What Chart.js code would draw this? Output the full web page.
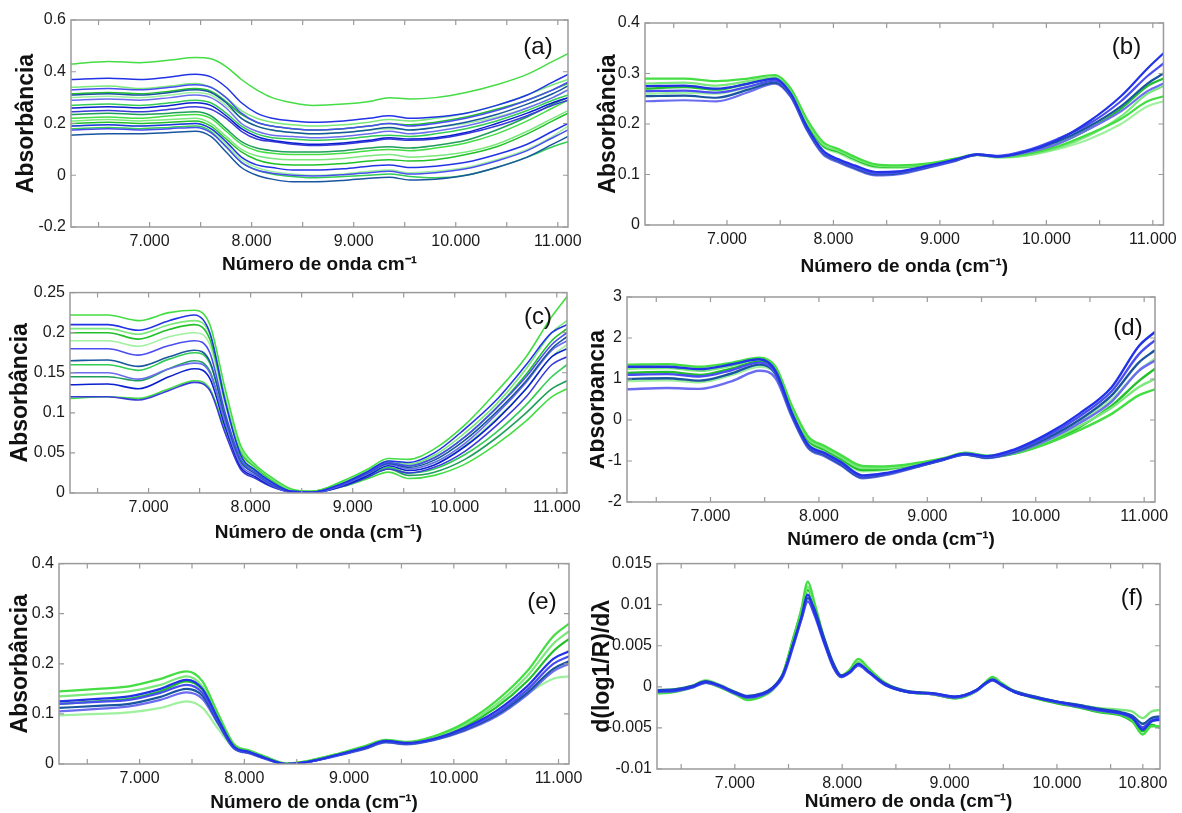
<!DOCTYPE html>
<html>
<head>
  <meta charset="UTF-8">
  <title>Espectros NIR</title>
  <script src="https://cdn.jsdelivr.net/npm/chart.js@4.4.4/dist/chart.umd.min.js"></script>
  <style>
    body { margin: 0; background: #fff; }
    #wrap { position: relative; width: 1182px; height: 813px; overflow: hidden; }
    .panel { position: absolute; background: #fff; }
    .panel canvas { display: block; }
  </style>
</head>
<body>
<div id="wrap">
  <div class="panel" style="left:0;top:0"><canvas id="chartA" width="590" height="278"></canvas></div>
  <div class="panel" style="left:590px;top:0"><canvas id="chartB" width="592" height="278"></canvas></div>
  <div class="panel" style="left:0;top:278px"><canvas id="chartC" width="590" height="271"></canvas></div>
  <div class="panel" style="left:590px;top:278px"><canvas id="chartD" width="592" height="271"></canvas></div>
  <div class="panel" style="left:0;top:549px"><canvas id="chartE" width="590" height="264"></canvas></div>
  <div class="panel" style="left:590px;top:549px"><canvas id="chartF" width="592" height="264"></canvas></div>
</div>

<script>
  // ---- wavenumber grids (cm-1) ----
  const waveGrid = [6230, 6600, 6900, 7200, 7450, 7600, 7750, 7900, 8050, 8200, 8400,
                    8600, 8900, 9150, 9350, 9550, 9800, 10100, 10400, 10700, 10950, 11100];
  const waveGridF = [6280, 6450, 6600, 6730, 6850, 7000, 7120, 7250, 7350, 7450,
                     7550, 7620, 7680, 7740, 7830, 7920, 7990, 8070, 8150, 8250,
                     8400, 8600, 8850, 9050, 9250, 9330, 9400, 9480, 9600, 9800,
                     10000, 10200, 10400, 10600, 10700, 10800, 10880, 10960];

  const xTicks = [6500, 7000, 7500, 8000, 8500, 9000, 9500, 10000, 10500, 11000];
  const xLabels = [7000, 8000, 9000, 10000, 11000];
  const xTicksF = [6500, 7000, 7500, 8000, 8500, 9000, 9500, 10000, 10500, 10800];
  const xLabelsF = [7000, 8000, 9000, 10000, 10800];

  // ---- (a) raw spectra ----
  const aGreen = [
    [0.43,0.44,0.435,0.445,0.455,0.45,0.42,0.37,0.33,0.3,0.28,0.27,0.275,0.285,0.3,0.295,0.3,0.32,0.35,0.39,0.44,0.47],
    [0.34,0.345,0.335,0.345,0.355,0.34,0.3,0.25,0.22,0.205,0.195,0.19,0.195,0.205,0.215,0.21,0.22,0.24,0.27,0.31,0.35,0.37],
    [0.315,0.32,0.315,0.325,0.335,0.325,0.285,0.235,0.205,0.19,0.18,0.175,0.18,0.19,0.2,0.195,0.205,0.225,0.255,0.29,0.33,0.355],
    [0.3,0.305,0.3,0.31,0.32,0.31,0.27,0.22,0.19,0.175,0.165,0.16,0.165,0.175,0.18,0.175,0.185,0.2,0.225,0.26,0.3,0.33],
    [0.27,0.275,0.27,0.28,0.29,0.28,0.24,0.19,0.16,0.145,0.14,0.135,0.14,0.15,0.155,0.15,0.16,0.18,0.21,0.25,0.29,0.31],
    [0.235,0.24,0.235,0.24,0.245,0.23,0.18,0.13,0.105,0.095,0.09,0.09,0.095,0.105,0.11,0.105,0.115,0.135,0.175,0.225,0.275,0.3],
    [0.22,0.225,0.22,0.23,0.235,0.22,0.17,0.12,0.095,0.085,0.08,0.08,0.085,0.095,0.1,0.095,0.105,0.125,0.16,0.21,0.26,0.29],
    [0.21,0.215,0.21,0.215,0.22,0.2,0.15,0.1,0.075,0.065,0.06,0.06,0.065,0.075,0.08,0.07,0.075,0.09,0.12,0.17,0.22,0.25],
    [0.2,0.205,0.2,0.205,0.21,0.19,0.14,0.09,0.06,0.045,0.04,0.04,0.045,0.055,0.06,0.055,0.06,0.08,0.11,0.16,0.21,0.24],
    [0.19,0.195,0.19,0.195,0.2,0.18,0.12,0.06,0.03,0.015,0.005,0.0,0.005,0.015,0.02,0.01,0.015,0.03,0.06,0.1,0.15,0.19],
    [0.18,0.185,0.18,0.185,0.19,0.17,0.11,0.05,0.02,0.005,-0.005,-0.01,-0.005,0.0,0.005,-0.005,-0.01,0.0,0.03,0.07,0.11,0.13]
  ];
  const aBlue = [
    [0.37,0.375,0.37,0.38,0.39,0.38,0.34,0.28,0.24,0.22,0.21,0.205,0.21,0.22,0.23,0.22,0.225,0.24,0.27,0.31,0.36,0.39],
    [0.33,0.335,0.33,0.34,0.35,0.34,0.3,0.24,0.205,0.19,0.18,0.175,0.18,0.19,0.2,0.19,0.2,0.22,0.25,0.29,0.33,0.36],
    [0.31,0.315,0.31,0.32,0.33,0.32,0.28,0.22,0.19,0.175,0.165,0.16,0.165,0.175,0.185,0.175,0.185,0.205,0.235,0.275,0.315,0.345],
    [0.29,0.295,0.29,0.3,0.31,0.3,0.26,0.2,0.17,0.155,0.15,0.145,0.15,0.16,0.17,0.16,0.17,0.19,0.22,0.26,0.3,0.33],
    [0.26,0.265,0.26,0.27,0.28,0.27,0.23,0.18,0.15,0.135,0.125,0.12,0.125,0.135,0.145,0.14,0.145,0.165,0.2,0.24,0.28,0.3],
    [0.245,0.25,0.245,0.255,0.265,0.255,0.22,0.17,0.14,0.13,0.12,0.115,0.12,0.13,0.14,0.135,0.14,0.16,0.19,0.23,0.27,0.29],
    [0.19,0.195,0.19,0.195,0.2,0.18,0.13,0.07,0.04,0.03,0.02,0.02,0.025,0.035,0.04,0.03,0.035,0.05,0.08,0.12,0.17,0.2],
    [0.175,0.18,0.175,0.18,0.185,0.165,0.11,0.05,0.02,0.008,0.0,-0.003,0.002,0.01,0.015,0.005,0.01,0.025,0.055,0.095,0.145,0.175],
    [0.155,0.16,0.16,0.165,0.17,0.15,0.09,0.03,0.0,-0.015,-0.025,-0.025,-0.02,-0.012,-0.008,-0.018,-0.015,0.0,0.03,0.07,0.12,0.15]
  ];

  // ---- (b) ----
  const bGreen = [
    [0.29,0.29,0.285,0.29,0.297,0.27,0.21,0.165,0.15,0.135,0.12,0.118,0.122,0.132,0.14,0.135,0.14,0.155,0.18,0.21,0.245,0.255],
    [0.28,0.282,0.276,0.285,0.293,0.265,0.205,0.16,0.147,0.132,0.118,0.116,0.121,0.131,0.139,0.134,0.138,0.152,0.177,0.215,0.26,0.275],
    [0.27,0.273,0.268,0.28,0.29,0.262,0.2,0.157,0.145,0.13,0.116,0.115,0.12,0.13,0.139,0.135,0.14,0.16,0.19,0.23,0.275,0.29],
    [0.26,0.262,0.26,0.273,0.285,0.26,0.198,0.155,0.142,0.127,0.114,0.113,0.12,0.13,0.139,0.134,0.137,0.15,0.17,0.2,0.235,0.245]
  ];
  const bBlue = [
    [0.275,0.276,0.27,0.28,0.29,0.26,0.195,0.148,0.13,0.118,0.105,0.106,0.118,0.13,0.14,0.136,0.145,0.168,0.205,0.255,0.31,0.34],
    [0.265,0.266,0.262,0.274,0.286,0.257,0.192,0.145,0.128,0.115,0.102,0.104,0.116,0.129,0.14,0.137,0.147,0.17,0.2,0.245,0.295,0.32],
    [0.255,0.256,0.252,0.268,0.282,0.255,0.19,0.143,0.126,0.113,0.1,0.102,0.115,0.128,0.139,0.136,0.145,0.165,0.195,0.235,0.28,0.3],
    [0.245,0.247,0.245,0.263,0.28,0.253,0.188,0.14,0.124,0.111,0.098,0.1,0.114,0.127,0.139,0.135,0.143,0.16,0.19,0.225,0.265,0.28]
  ];

  // ---- (c) ----
  const cGreen = [
    [0.222,0.222,0.215,0.225,0.228,0.21,0.13,0.06,0.035,0.02,0.005,0.002,0.015,0.03,0.043,0.042,0.055,0.085,0.125,0.17,0.22,0.245],
    [0.205,0.205,0.198,0.21,0.215,0.198,0.12,0.055,0.033,0.018,0.004,0.002,0.014,0.028,0.04,0.036,0.047,0.075,0.11,0.155,0.2,0.215],
    [0.2,0.2,0.192,0.204,0.21,0.192,0.115,0.052,0.032,0.017,0.004,0.002,0.013,0.027,0.038,0.034,0.044,0.07,0.105,0.148,0.19,0.205],
    [0.19,0.19,0.183,0.195,0.2,0.185,0.11,0.05,0.031,0.017,0.004,0.001,0.012,0.025,0.036,0.03,0.038,0.06,0.092,0.13,0.17,0.185],
    [0.16,0.16,0.153,0.167,0.175,0.162,0.097,0.045,0.029,0.016,0.003,0.001,0.01,0.022,0.032,0.025,0.03,0.048,0.075,0.11,0.145,0.16],
    [0.145,0.145,0.14,0.155,0.165,0.152,0.09,0.042,0.028,0.015,0.003,0.001,0.009,0.02,0.03,0.022,0.026,0.042,0.068,0.1,0.13,0.14],
    [0.118,0.12,0.118,0.13,0.14,0.13,0.08,0.038,0.026,0.014,0.003,0.001,0.008,0.018,0.026,0.018,0.022,0.036,0.06,0.09,0.12,0.13]
  ];
  const cBlue = [
    [0.21,0.21,0.203,0.215,0.222,0.2,0.115,0.048,0.028,0.014,0.002,0.001,0.012,0.027,0.04,0.038,0.05,0.08,0.115,0.16,0.2,0.21],
    [0.18,0.18,0.172,0.184,0.19,0.175,0.1,0.042,0.025,0.012,0.002,0.001,0.011,0.026,0.038,0.034,0.044,0.07,0.105,0.145,0.185,0.2],
    [0.165,0.166,0.158,0.17,0.178,0.164,0.095,0.04,0.024,0.011,0.002,0.001,0.011,0.025,0.037,0.032,0.041,0.066,0.1,0.14,0.18,0.195],
    [0.15,0.15,0.142,0.155,0.162,0.15,0.088,0.036,0.022,0.01,0.001,0.0,0.01,0.024,0.036,0.03,0.038,0.062,0.097,0.138,0.178,0.19],
    [0.135,0.136,0.13,0.145,0.155,0.143,0.083,0.033,0.02,0.009,0.001,0.0,0.009,0.022,0.034,0.028,0.035,0.058,0.09,0.13,0.17,0.18],
    [0.12,0.12,0.116,0.128,0.138,0.128,0.075,0.03,0.018,0.008,0.001,0.0,0.008,0.02,0.03,0.025,0.032,0.052,0.083,0.12,0.16,0.17]
  ];

  // ---- (d) ----
  const dGreen = [
    [1.35,1.36,1.3,1.4,1.52,1.3,0.35,-0.4,-0.63,-0.85,-1.12,-1.13,-1.05,-0.93,-0.8,-0.87,-0.82,-0.58,-0.25,0.15,0.6,0.75],
    [1.25,1.27,1.2,1.33,1.48,1.27,0.3,-0.45,-0.68,-0.9,-1.17,-1.17,-1.07,-0.94,-0.81,-0.88,-0.8,-0.52,-0.15,0.3,0.8,1.0],
    [1.15,1.17,1.1,1.26,1.43,1.23,0.25,-0.5,-0.72,-0.95,-1.22,-1.2,-1.09,-0.95,-0.82,-0.9,-0.82,-0.55,-0.18,0.35,0.95,1.25],
    [0.95,0.97,0.92,1.1,1.3,1.12,0.2,-0.55,-0.75,-0.98,-1.25,-1.22,-1.1,-0.96,-0.83,-0.9,-0.78,-0.45,-0.05,0.5,1.2,1.5]
  ];
  const dBlue = [
    [1.3,1.3,1.24,1.36,1.48,1.2,0.18,-0.6,-0.8,-1.02,-1.35,-1.3,-1.12,-0.95,-0.82,-0.88,-0.72,-0.35,0.15,0.8,1.8,2.15],
    [1.1,1.12,1.06,1.22,1.4,1.15,0.15,-0.62,-0.82,-1.05,-1.38,-1.32,-1.13,-0.96,-0.83,-0.9,-0.75,-0.4,0.08,0.7,1.6,1.95],
    [1.0,1.02,0.96,1.14,1.35,1.12,0.12,-0.65,-0.85,-1.08,-1.4,-1.33,-1.14,-0.97,-0.84,-0.92,-0.78,-0.45,0.0,0.6,1.4,1.7],
    [0.75,0.78,0.76,0.95,1.2,1.02,0.08,-0.68,-0.88,-1.1,-1.42,-1.35,-1.15,-0.97,-0.84,-0.93,-0.8,-0.5,-0.08,0.45,1.2,1.45]
  ];

  // ---- (e) ----
  const eGreen = [
    [0.145,0.15,0.155,0.17,0.185,0.165,0.1,0.04,0.027,0.015,0.001,0.006,0.021,0.036,0.048,0.044,0.055,0.082,0.125,0.185,0.255,0.28],
    [0.135,0.14,0.145,0.158,0.175,0.155,0.095,0.038,0.026,0.014,0.001,0.005,0.02,0.034,0.046,0.043,0.053,0.078,0.118,0.175,0.24,0.265],
    [0.12,0.125,0.13,0.145,0.165,0.148,0.09,0.036,0.025,0.013,0.001,0.005,0.019,0.033,0.045,0.042,0.052,0.075,0.112,0.165,0.225,0.25],
    [0.097,0.1,0.103,0.112,0.125,0.112,0.07,0.032,0.022,0.012,0.001,0.004,0.018,0.031,0.043,0.04,0.048,0.068,0.1,0.14,0.17,0.175]
  ];
  const eBlue = [
    [0.125,0.13,0.135,0.15,0.168,0.15,0.09,0.035,0.024,0.012,0.0,0.004,0.019,0.033,0.046,0.042,0.05,0.072,0.105,0.155,0.21,0.225],
    [0.12,0.124,0.128,0.142,0.158,0.142,0.086,0.033,0.023,0.011,0.0,0.004,0.018,0.032,0.045,0.041,0.049,0.07,0.1,0.148,0.2,0.215],
    [0.112,0.116,0.12,0.134,0.15,0.136,0.082,0.032,0.022,0.011,0.0,0.004,0.018,0.031,0.044,0.04,0.048,0.068,0.097,0.142,0.19,0.205],
    [0.105,0.11,0.115,0.128,0.143,0.13,0.08,0.031,0.021,0.01,0.0,0.004,0.017,0.03,0.043,0.039,0.047,0.066,0.094,0.138,0.185,0.2]
  ];

  // ---- (f) first derivative ----
  const fGreen = [
    [-0.0008,-0.0006,-0.0001,0.0005,0.0,-0.0009,-0.0016,-0.0012,-0.0004,0.0016,0.006,0.0095,0.0128,0.0103,0.006,0.0027,0.0014,0.0021,0.0034,0.0022,0.0005,-0.0006,-0.0009,-0.0014,-0.0005,0.0005,0.0012,0.0005,-0.0005,-0.0013,-0.0019,-0.0024,-0.003,-0.0034,-0.0041,-0.0058,-0.0048,-0.0048],
    [-0.0004,-0.0003,0.0001,0.0008,0.0003,-0.0006,-0.0013,-0.0011,-0.0003,0.0015,0.0058,0.009,0.0122,0.0098,0.0058,0.0026,0.0013,0.0019,0.0031,0.002,0.0004,-0.0005,-0.0008,-0.0013,-0.0004,0.0004,0.001,0.0004,-0.0005,-0.0012,-0.0018,-0.0022,-0.0026,-0.0028,-0.003,-0.0038,-0.003,-0.0028],
    [-0.0006,-0.0005,0.0,0.0006,0.0001,-0.0008,-0.0014,-0.001,-0.0002,0.0017,0.0062,0.0092,0.0118,0.0096,0.0057,0.0024,0.0012,0.0018,0.003,0.0019,0.0003,-0.0006,-0.0009,-0.0014,-0.0005,0.0003,0.0009,0.0003,-0.0006,-0.0014,-0.002,-0.0025,-0.0031,-0.0035,-0.0042,-0.0054,-0.0046,-0.005]
  ];
  const fBlue = [
    [-0.0005,-0.0004,0.0,0.0006,0.0002,-0.0007,-0.0012,-0.0009,-0.0002,0.0015,0.0055,0.0085,0.0112,0.0092,0.0056,0.0025,0.0013,0.0018,0.0028,0.0018,0.0003,-0.0006,-0.0008,-0.0012,-0.0004,0.0004,0.0009,0.0003,-0.0006,-0.0013,-0.0018,-0.0023,-0.0028,-0.0032,-0.0037,-0.0052,-0.0042,-0.004],
    [-0.0006,-0.0005,-0.0001,0.0005,0.0001,-0.0008,-0.0013,-0.001,-0.0003,0.0013,0.0052,0.0082,0.0104,0.0088,0.0054,0.0023,0.0012,0.0017,0.0026,0.0017,0.0002,-0.0006,-0.0009,-0.0013,-0.0005,0.0003,0.0008,0.0002,-0.0006,-0.0013,-0.0019,-0.0024,-0.0029,-0.0033,-0.0038,-0.0049,-0.0041,-0.0038],
    [-0.0004,-0.0003,0.0001,0.0007,0.0002,-0.0006,-0.0011,-0.0008,-0.0001,0.0016,0.0054,0.0083,0.0108,0.0095,0.006,0.0028,0.0014,0.0018,0.0027,0.0018,0.0004,-0.0005,-0.0008,-0.0012,-0.0004,0.0004,0.0008,0.0003,-0.0005,-0.0012,-0.0018,-0.0022,-0.0027,-0.0031,-0.0035,-0.0045,-0.0038,-0.0036]
  ];

  // ---- styles ----
  const greenShades = ['#44dd44', '#7ae87a', '#22c02a', '#9ff09f', '#33cc55', '#1f9f5a'];
  const blueShades  = ['#2233e6', '#4a4ef0', '#1a55a0', '#6b6cf0', '#0a1fcf', '#3a3ad8'];
  const FONT = "'Liberation Sans', Arial, sans-serif";
  const AXIS_GRAY = '#9a9a9a';

  // frame + inward ticks, MATLAB style
  const frame = {
    id: 'frame',
    afterDatasetsDraw(chart) {
      const {ctx, chartArea: a, scales: {x, y}} = chart;
      ctx.save();
      ctx.strokeStyle = AXIS_GRAY;
      ctx.lineWidth = 1.5;
      ctx.strokeRect(a.left, a.top, a.right - a.left, a.bottom - a.top);
      ctx.lineWidth = 1.2;
      ctx.beginPath();
      x.ticks.forEach(t => {
        const px = x.getPixelForValue(t.value);
        ctx.moveTo(px, a.bottom); ctx.lineTo(px, a.bottom - 5);
        ctx.moveTo(px, a.top); ctx.lineTo(px, a.top + 5);
      });
      y.ticks.forEach(t => {
        const py = y.getPixelForValue(t.value);
        ctx.moveTo(a.left, py); ctx.lineTo(a.left + 5, py);
        ctx.moveTo(a.right, py); ctx.lineTo(a.right - 5, py);
      });
      ctx.stroke();
      ctx.restore();
    }
  };

  const panelTag = {
    id: 'panelTag',
    afterDraw(chart, args, opts) {
      const {ctx, chartArea: a} = chart;
      ctx.save();
      ctx.font = '24px ' + FONT;
      ctx.fillStyle = '#111';
      ctx.textAlign = 'center';
      ctx.textBaseline = 'middle';
      ctx.fillText(opts.text, a.right - opts.dx, a.top + opts.dy);
      ctx.restore();
    }
  };

  function series(grid, vals) {
    return vals.map((v, i) => ({x: grid[i], y: v}));
  }

  function makePanel(id, p) {
    const datasets = [];
    p.blue.forEach((vals, i) => datasets.push({
      data: series(p.grid, vals), borderColor: blueShades[i % blueShades.length],
      borderWidth: p.lw, pointRadius: 0, cubicInterpolationMode: 'monotone'
    }));
    p.green.forEach((vals, i) => datasets.push({
      data: series(p.grid, vals), borderColor: greenShades[i % greenShades.length],
      borderWidth: p.lw, pointRadius: 0, cubicInterpolationMode: 'monotone'
    }));

    new Chart(document.getElementById(id), {
      type: 'line',
      data: {datasets},
      options: {
        responsive: false,
        animation: false,
        events: [],
        layout: {padding: {left: 0, bottom: 0, top: p.padTop, right: p.padRight}},
        plugins: {
          legend: {display: false},
          tooltip: {enabled: false},
          panelTag: {text: p.tag, dx: p.tagDx, dy: p.tagDy}
        },
        scales: {
          x: {
            type: 'linear',
            min: p.xMin, max: p.xMax,
            grid: {display: false, drawTicks: false},
            border: {display: false},
            afterBuildTicks: s => { s.ticks = p.xTicks.map(v => ({value: v})); },
            afterFit: s => { s.height = p.xHeight; },
            ticks: {
              padding: 5, color: '#1a1a1a', font: {family: FONT, size: 16},
              autoSkip: false, maxRotation: 0,
              callback: v => p.xLabels.includes(v) ? (v / 1000).toFixed(3) : ''
            },
            title: {
              display: true, text: p.xTitle, color: '#111',
              font: {family: FONT, size: 19, weight: 'bold'},
              padding: {top: 0, bottom: p.xTitlePad}
            }
          },
          y: {
            min: p.yMin, max: p.yMax,
            grid: {display: false, drawTicks: false},
            border: {display: false},
            afterFit: s => { s.width = p.yWidth; },
            ticks: {
              stepSize: p.yStep, padding: 5, color: '#1a1a1a',
              font: {family: FONT, size: 16},
              callback: v => String(+v.toFixed(4))
            },
            title: {
              display: true, text: p.yTitle, color: '#111',
              font: {family: FONT, size: 23, weight: 'bold'},
              padding: {top: p.yTitlePad, bottom: 0}
            }
          }
        }
      },
      plugins: [frame, panelTag]
    });
  }

  const titleA = 'Número de onda cm\u207B\u00B9';
  const titleX = 'Número de onda (cm\u207B\u00B9)';

  makePanel('chartA', {
    grid: waveGrid, green: aGreen, blue: aBlue, lw: 1.5,
    xMin: 6230, xMax: 11100, xTicks: xTicks, xLabels: xLabels,
    yMin: -0.2, yMax: 0.6, yStep: 0.2,
    xTitle: titleA, yTitle: 'Absorbância', tag: '(a)',
    padTop: 20, padRight: 22, yWidth: 71, xHeight: 51,
    xTitlePad: 278 - 265 - 11.4, yTitlePad: 27 - 13.8, tagDx: 30, tagDy: 27
  });
  makePanel('chartB', {
    grid: waveGrid, green: bGreen, blue: bBlue, lw: 2.2,
    xMin: 6230, xMax: 11100, xTicks: xTicks, xLabels: xLabels,
    yMin: 0, yMax: 0.4, yStep: 0.1,
    xTitle: titleX, yTitle: 'Absorbância', tag: '(b)',
    padTop: 23, padRight: 15, yWidth: 55, xHeight: 53,
    xTitlePad: 278 - 267 - 11.4, yTitlePad: 19 - 13.8, tagDx: 37, tagDy: 24
  });
  makePanel('chartC', {
    grid: waveGrid, green: cGreen, blue: cBlue, lw: 1.6,
    xMin: 6230, xMax: 11100, xTicks: xTicks, xLabels: xLabels,
    yMin: 0, yMax: 0.25, yStep: 0.05,
    xTitle: titleX, yTitle: 'Absorbância', tag: '(c)',
    padTop: 10, padRight: 23, yWidth: 70, xHeight: 56,
    xTitlePad: 549 - 533 - 11.4, yTitlePad: 21 - 13.8, tagDx: 29, tagDy: 25
  });
  makePanel('chartD', {
    grid: waveGrid, green: dGreen, blue: dBlue, lw: 2.4,
    xMin: 6230, xMax: 11100, xTicks: xTicks, xLabels: xLabels,
    yMin: -2, yMax: 3, yStep: 1,
    xTitle: titleX, yTitle: 'Absorbância', tag: '(d)',
    padTop: 19, padRight: 27, yWidth: 37, xHeight: 47,
    xTitlePad: 549 - 540 - 11.4, yTitlePad: 8 - 13.8, tagDx: 27, tagDy: 31
  });
  makePanel('chartE', {
    grid: waveGrid, green: eGreen, blue: eBlue, lw: 2.2,
    xMin: 6230, xMax: 11100, xTicks: xTicks, xLabels: xLabels,
    yMin: 0, yMax: 0.4, yStep: 0.1,
    xTitle: titleX, yTitle: 'Absorbância', tag: '(e)',
    padTop: 12, padRight: 21, yWidth: 59, xHeight: 49,
    xTitlePad: 813 - 803 - 11.4, yTitlePad: 21 - 13.8, tagDx: 27, tagDy: 39
  });
  makePanel('chartF', {
    grid: waveGridF, green: fGreen, blue: fBlue, lw: 2.4,
    xMin: 6275, xMax: 10960, xTicks: xTicksF, xLabels: xLabelsF,
    yMin: -0.01, yMax: 0.015, yStep: 0.005,
    xTitle: titleX, yTitle: 'd(log1/R)/d\u03BB', tag: '(f)',
    padTop: 11, padRight: 22, yWidth: 67, xHeight: 44,
    xTitlePad: 813 - 802 - 11.4, yTitlePad: 13 - 13.8, tagDx: 28, tagDy: 35
  });
</script>
</body>
</html>
